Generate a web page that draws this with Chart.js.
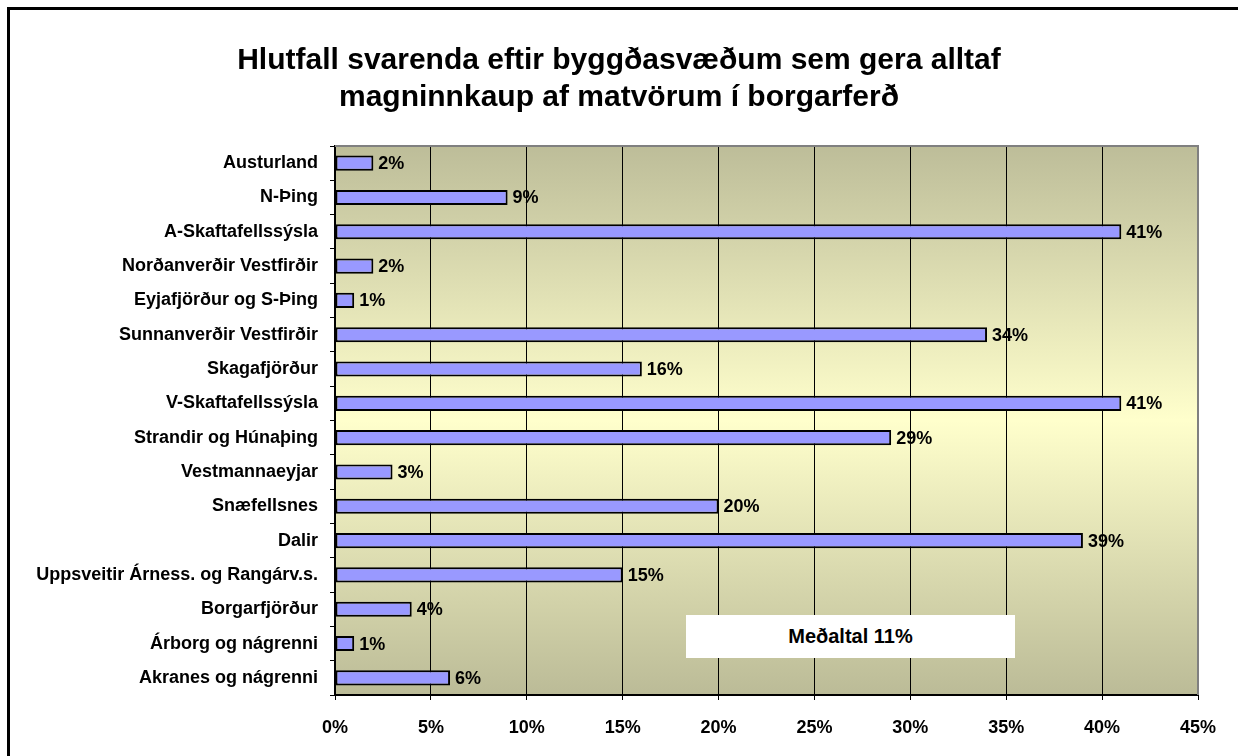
<!DOCTYPE html>
<html>
<head>
<meta charset="utf-8">
<script src="https://cdn.jsdelivr.net/npm/chart.js@4.4.1/dist/chart.umd.min.js"></script>
<style>
  html, body { margin: 0; padding: 0; background: #fff; }
  #wrap { position: relative; width: 1238px; height: 756px; overflow: hidden; }
  #frame {
    position: absolute; left: 7px; top: 7px; width: 1400px; height: 900px;
    border-left: 3px solid #000; border-top: 3px solid #000; box-sizing: border-box;
  }
  #title {
    position: absolute; left: 0; top: 40px; width: 1238px; text-align: center;
    font: bold 30px/37px "Liberation Sans", Arial, sans-serif; color: #000;
  }
  #avg {
    position: absolute; left: 686px; top: 615px; width: 329px; height: 43px;
    background: #fff; font: bold 20px "Liberation Sans", Arial, sans-serif;
    display: flex; align-items: center; justify-content: center; color: #000;
  }
  canvas { position: absolute; left: 0; top: 0; }
</style>
</head>
<body>
<div id="wrap">
  <div id="frame"></div>
  <canvas id="barChart" width="1238" height="756"></canvas>
  <div id="title"></div>
  <div id="avg">Meðaltal 11%</div>
</div>
<script>
const categories = [
  'Austurland',
  'N-Þing',
  'A-Skaftafellssýsla',
  'Norðanverðir Vestfirðir',
  'Eyjafjörður og S-Þing',
  'Sunnanverðir Vestfirðir',
  'Skagafjörður',
  'V-Skaftafellssýsla',
  'Strandir og Húnaþing',
  'Vestmannaeyjar',
  'Snæfellsnes',
  'Dalir',
  'Uppsveitir Árness. og Rangárv.s.',
  'Borgarfjörður',
  'Árborg og nágrenni',
  'Akranes og nágrenni'
];
const values = [2, 9, 41, 2, 1, 34, 16, 41, 29, 3, 20, 39, 15, 4, 1, 6];
const axisMax = 45;
const axisStep = 5;
const titleLines = [
  'Hlutfall svarenda eftir byggðasvæðum sem gera alltaf',
  'magninnkaup af matvörum í borgarferð'
];

const FONT = '"Liberation Sans", Arial, sans-serif';

titleLines.forEach(t => {
  const d = document.createElement('div');
  d.textContent = t;
  document.getElementById('title').appendChild(d);
});

// plot background: olive at top/bottom, pale yellow in the middle
const plotBg = {
  id: 'plotBg',
  beforeDraw(chart) {
    const { ctx, chartArea: a } = chart;
    const g = ctx.createLinearGradient(0, a.top, 0, a.bottom);
    g.addColorStop(0, '#bdbd99');
    g.addColorStop(0.5, '#ffffcc');
    g.addColorStop(1, '#bbbb97');
    ctx.save();
    ctx.fillStyle = g;
    ctx.fillRect(a.left, a.top, a.right - a.left, a.bottom - a.top);
    ctx.restore();
  },
  beforeDatasetsDraw(chart) {
    const { ctx, chartArea: a } = chart;
    ctx.save();
    ctx.strokeStyle = '#808080';
    ctx.lineWidth = 2;
    ctx.beginPath();
    ctx.moveTo(a.left, a.top);
    ctx.lineTo(a.right, a.top);
    ctx.lineTo(a.right, a.bottom);
    ctx.stroke();
    ctx.restore();
  }
};

const valueLabels = {
  id: 'valueLabels',
  afterDatasetsDraw(chart) {
    const { ctx } = chart;
    const meta = chart.getDatasetMeta(0);
    ctx.save();
    ctx.font = 'bold 18px ' + FONT;
    ctx.fillStyle = '#000';
    ctx.textAlign = 'left';
    ctx.textBaseline = 'middle';
    meta.data.forEach((bar, i) => {
      ctx.fillText(values[i] + '%', bar.x + 5, bar.y + 1);
    });
    ctx.restore();
  }
};

new Chart(document.getElementById('barChart'), {
  type: 'bar',
  data: {
    labels: categories,
    datasets: [{
      data: values,
      backgroundColor: '#9999ff',
      borderColor: '#000',
      borderWidth: 2,
      borderSkipped: false,
      barPercentage: 0.44,
      categoryPercentage: 1
    }]
  },
  options: {
    indexAxis: 'y',
    responsive: false,
    animation: false,
    layout: { padding: { top: 146, right: 40, bottom: 0, left: 0 } },
    plugins: {
      legend: { display: false },
      tooltip: { enabled: false },
      title: { display: false }
    },
    scales: {
      x: {
        min: 0,
        max: axisMax,
        afterFit(scale) { scale.height = 61; },
        ticks: {
          stepSize: axisStep,
          padding: 17,
          color: '#000',
          font: { family: FONT, size: 18, weight: 'bold' },
          callback: v => v + '%'
        },
        grid: { color: '#000', lineWidth: 1, tickLength: 5 },
        border: { color: '#000', width: 2 }
      },
      y: {
        afterFit(scale) { scale.width = 335; },
        ticks: {
          padding: 12,
          autoSkip: false,
          color: '#000',
          font: { family: FONT, size: 18, weight: 'bold' }
        },
        grid: { color: '#000', drawOnChartArea: false, tickLength: 5, offset: true },
        border: { color: '#000', width: 2 }
      }
    }
  },
  plugins: [plotBg, valueLabels]
});
</script>
</body>
</html>
